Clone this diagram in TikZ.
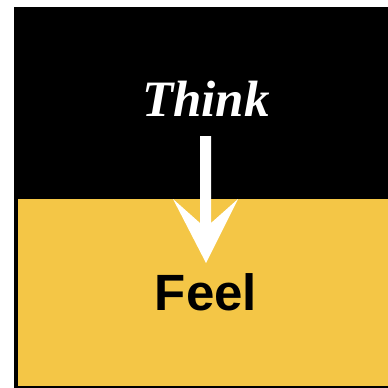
\documentclass[tikz,border=0pt]{standalone}
\usepackage{fontspec}
\setmainfont{Liberation Serif}
\newfontfamily\arialfont{Liberation Sans}
\definecolor{feelyellow}{HTML}{F4C646}
\begin{document}
\begin{tikzpicture}[x=1pt,y=-1pt]
\useasboundingbox (0,0) rectangle (388,388);
\fill[black] (14,7) rectangle (388,388);
\fill[feelyellow] (18,199) rectangle (388,386);
\node[text=white, font=\fontsize{51}{51}\selectfont\bfseries\itshape, inner sep=0pt, anchor=base] (think) at (206,116) {Think};
\node[text=black, font=\arialfont\fontsize{51}{51}\selectfont\bfseries, inner sep=0pt, anchor=base] (feel) at (206,310) {Feel};
\fill[white] (200,136) -- (211,136) -- (211,223) -- (238,199) -- (206,263) -- (173,199) -- (200,223) -- cycle;
\end{tikzpicture}
\end{document}
